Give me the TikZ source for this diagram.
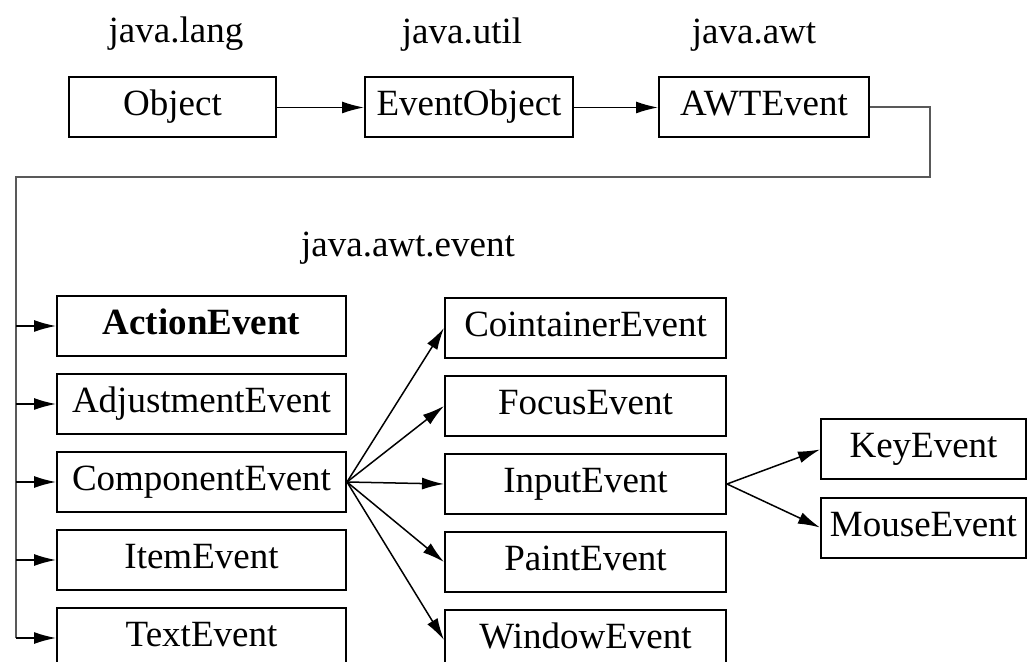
\documentclass[tikz,border=0pt]{standalone}
\usepackage{fontspec}
\setmainfont{Liberation Serif}
\usetikzlibrary{arrows.meta, positioning}

\begin{document}
\begin{tikzpicture}[x=0.5pt, y=-0.5pt, node distance=8pt,
    cls/.style={draw, line width=1pt, minimum height=30pt, inner sep=0pt,
      text height=13.5pt, text depth=5pt, font=\fontsize{18.5}{22}\selectfont},
    pkg/.style={anchor=base, font=\fontsize{18.5}{22}\selectfont},
    inh/.style={line width=0.75pt, -{Latex[length=11pt, width=6pt]}},
    trunk/.style={line width=1pt, draw=black!65}]
  \useasboundingbox (0,0) rectangle (1028,662);
  \clip (0,0) rectangle (1028,662);

  \node[pkg] (lang) at (176,43) {java.lang};
  \node[pkg] (util) at (462,44) {java.util};
  \node[pkg] (awtpkg) at (754,44) {java.awt};
  \node[pkg] (evpkg) at (408,257) {java.awt.event};

  \node[cls, minimum width=103.5pt] (obj) at (172.5,107.5) {Object};
  \node[cls, minimum width=104pt] (evobj) at (469,107.5) {EventObject};
  \node[cls, minimum width=105pt] (awt) at (764,107.5) {AWTEvent};

  \node[cls, minimum width=144.5pt] (act) at (201.5,326) {\textbf{ActionEvent}};
  \node[cls, minimum width=144.5pt, below=of act] (adj) {AdjustmentEvent};
  \node[cls, minimum width=144.5pt, below=of adj] (comp) {ComponentEvent};
  \node[cls, minimum width=144.5pt, below=of comp] (item) {ItemEvent};
  \node[cls, minimum width=144.5pt, below=of item] (txt) {TextEvent};

  \node[cls, minimum width=140.5pt] (cont) at (585.5,328) {CointainerEvent};
  \node[cls, minimum width=140.5pt, below=of cont] (focus) {FocusEvent};
  \node[cls, minimum width=140.5pt, below=of focus] (input) {InputEvent};
  \node[cls, minimum width=140.5pt, below=of input] (paint) {PaintEvent};
  \node[cls, minimum width=140.5pt, below=of paint] (win) {WindowEvent};

  \node[cls, minimum width=102.5pt] (key) at (923.5,449.5) {KeyEvent};
  \node[cls, minimum width=102.5pt, below=of key] (mouse) {MouseEvent};

  \draw[inh] (obj) -- (evobj);
  \draw[inh] (evobj) -- (awt);

  % AWTEvent down to the event classes
  \coordinate (turn) at (930,177);
  \coordinate (drop) at (16,177);
  \draw[trunk] (awt.east) -| (turn) -- (drop) -- (drop |- txt.west);
  \foreach \n in {act,adj,comp,item,txt}
    \draw[inh] (drop |- \n.west) -- (\n.west);

  \foreach \n in {cont,focus,input,paint,win}
    \draw[inh] (comp.east) -- (\n.west);
  \foreach \n in {key,mouse}
    \draw[inh] (input.east) -- (\n.west);
\end{tikzpicture}
\end{document}
